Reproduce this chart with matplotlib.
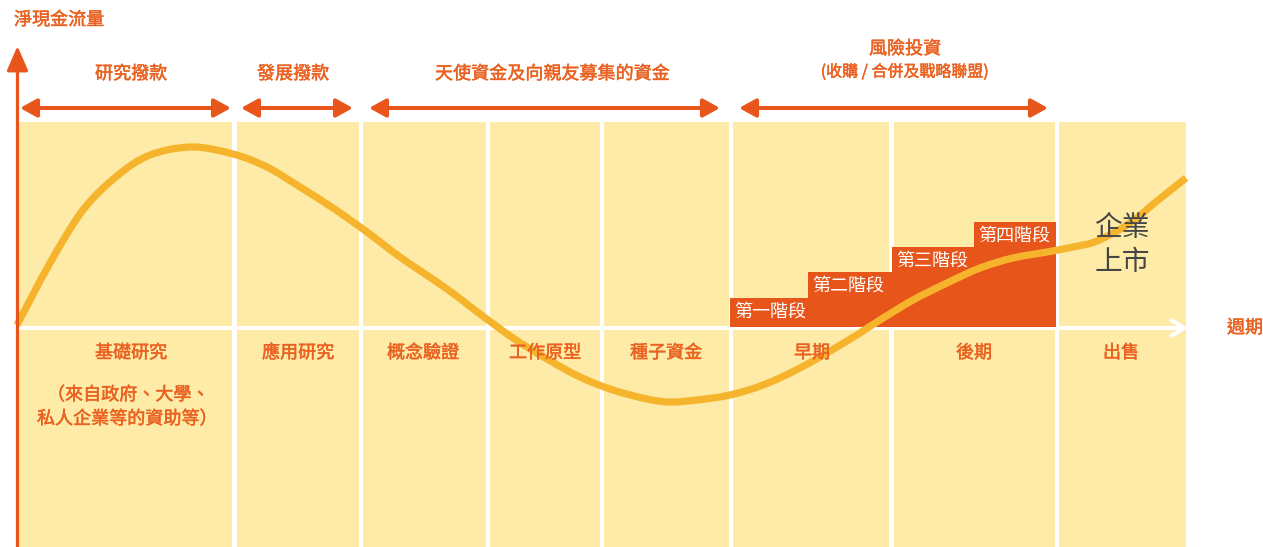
import matplotlib

matplotlib.use("agg")

import matplotlib.patheffects as pe
import matplotlib.pyplot as plt
from matplotlib.patches import PathPatch, Rectangle
from matplotlib.path import Path

plt.rcParams["font.family"] = ["Noto Sans CJK TC", "DejaVu Sans"]

ORANGE = "#E8561B"
TEXT_ORANGE = "#EA6221"
YELLOW = "#FEEBA8"
CURVE = "#F6B42C"
DARK = "#454545"

# Stage columns (left/right edges on the time axis) and their labels
col_left = [19, 237, 363, 490, 604, 733, 894, 1059]
col_right = [232, 359, 486, 600, 729, 889, 1055, 1186]
stage_labels = ["基礎研究", "應用研究", "概念驗證", "工作原型", "種子資金", "早期", "後期", "出售"]
stage_label_x = [131, 298, 423, 545, 666, 812, 974, 1121]

# Funding sources spanning the stages
fund_start = [20, 241, 369, 739]
fund_end = [231, 353, 720, 1048]
fund_labels = ["研究撥款", "發展撥款", "天使資金及向親友募集的資金", "風險投資"]
fund_label_x = [131, 293, 552, 905]

# Venture rounds: stepped boxes
round_labels = ["第一階段", "第二階段", "第三階段", "第四階段"]
round_left = [730, 808, 892, 974]
round_top = [298, 272, 247, 222]
round_right = 1056

# Net cash flow curve
curve_x = [17, 50, 83, 117, 150, 192, 233, 267, 300, 333, 367, 400, 447,
           480, 513, 547, 580, 613, 647, 670, 697, 730, 763, 800, 847,
           880, 913, 947, 980, 1013, 1047, 1073, 1097, 1130, 1157, 1186]
curve_y = [325, 263, 210, 176, 155, 147, 154, 167, 187, 208, 232, 257, 289,
           314, 338, 359, 377, 390, 399, 402, 400, 395, 385, 368, 341,
           320, 300, 283, 268, 258, 252, 247, 241, 223, 201, 178]

axis_y = 328


def smooth_path(xs, ys):
    # cubic Bezier segments through the points (Catmull-Rom tangents)
    pts = list(zip(xs, ys))
    verts = [pts[0]]
    codes = [Path.MOVETO]
    for i in range(len(pts) - 1):
        p0 = pts[max(i - 1, 0)]
        p1 = pts[i]
        p2 = pts[i + 1]
        p3 = pts[min(i + 2, len(pts) - 1)]
        c1 = (p1[0] + (p2[0] - p0[0]) / 6, p1[1] + (p2[1] - p0[1]) / 6)
        c2 = (p2[0] - (p3[0] - p1[0]) / 6, p2[1] - (p3[1] - p1[1]) / 6)
        verts += [c1, c2, p2]
        codes += [Path.CURVE4] * 3
    return Path(verts, codes)


fig = plt.figure(figsize=(12.63, 5.47), dpi=100)
ax = fig.add_axes([0, 0, 1, 1])
ax.set_xlim(0, 1263)
ax.set_ylim(547, 0)
ax.axis("off")

# stage columns
for l, r in zip(col_left, col_right):
    ax.add_patch(Rectangle((l, 122), r - l, 547 - 122, color=YELLOW, lw=0, zorder=1))

# time axis (white arrow)
ax.annotate("", xy=(1188, axis_y), xytext=(19, axis_y),
            arrowprops=dict(arrowstyle="->,head_length=0.9,head_width=0.55",
                            color="white", lw=2.9, shrinkA=0, shrinkB=0,
                            mutation_scale=10),
            zorder=2)

# venture rounds
for l, t in zip(round_left, round_top):
    ax.add_patch(Rectangle((l, t), round_right - l, axis_y - 1 - t,
                           color="#E8551A", lw=0, zorder=3))

ax.add_patch(PathPatch(smooth_path(curve_x, curve_y), fill=False,
                       edgecolor=CURVE, lw=5.2, capstyle="butt", zorder=4))

# slightly heavier strokes than the regular face
heavy_orange = [pe.withStroke(linewidth=0.35, foreground=TEXT_ORANGE)]

for lab, l, t in zip(round_labels, round_left, round_top):
    ax.text(l + 4, t + 14, lab, color="white", fontsize=13, ha="left",
            va="center", zorder=5)

# net cash flow axis
ax.annotate("", xy=(17.5, 46), xytext=(17.5, 547),
            arrowprops=dict(arrowstyle="-|>,head_length=1.5,head_width=0.65",
                            color=ORANGE, lw=2.3, shrinkA=0, shrinkB=0,
                            mutation_scale=10),
            zorder=6)

# funding arrows
for s, e in zip(fund_start, fund_end):
    ax.annotate("", xy=(e, 108), xytext=(s, 108),
                arrowprops=dict(arrowstyle="<|-|>,head_length=1.0,head_width=0.55",
                                color=ORANGE, lw=2.9, shrinkA=0, shrinkB=0,
                                mutation_scale=10),
                zorder=6)

label_style = dict(color=TEXT_ORANGE, ha="center", va="center",
                   path_effects=heavy_orange)
for lab, x in zip(fund_labels[:3], fund_label_x[:3]):
    ax.text(x, 74, lab, fontsize=13, **label_style)
ax.text(fund_label_x[3], 49, fund_labels[3], fontsize=13, **label_style)
ax.text(fund_label_x[3], 72, "(收購 / 合併及戰略聯盟)", fontsize=11.5, **label_style)

for lab, x in zip(stage_labels, stage_label_x):
    ax.text(x, 353, lab, fontsize=13, zorder=5, **label_style)
ax.text(128, 395, "（來自政府、大學、", fontsize=13, zorder=5, **label_style)
ax.text(127, 419, "私人企業等的資助等）", fontsize=13, zorder=5, **label_style)

ax.text(14, 20, "淨現金流量", color=TEXT_ORANGE, fontsize=13, ha="left",
        va="center", path_effects=heavy_orange)
ax.text(1263, 328, "週期", color=TEXT_ORANGE, fontsize=13, ha="right",
        va="center", path_effects=heavy_orange)

ax.text(1122, 228, "企業", color=DARK, fontsize=20, ha="center", va="center",
        zorder=5)
ax.text(1122, 262, "上市", color=DARK, fontsize=20, ha="center", va="center",
        zorder=5)

fig.savefig("out.png", dpi=100)
